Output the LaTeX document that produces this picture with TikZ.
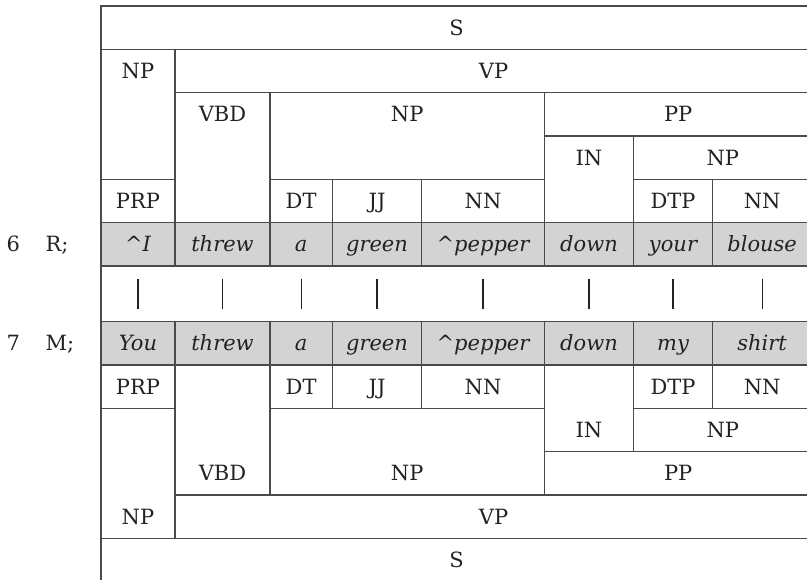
\documentclass[tikz,border=0pt]{standalone}
\usepackage{fontspec}
\setmainfont{DejaVu Serif}
\usetikzlibrary{calc}

\definecolor{rulegray}{HTML}{4A4A4A}
\definecolor{wordgray}{HTML}{D3D3D3}
\definecolor{inkgray}{HTML}{222222}

\begin{document}
\begin{tikzpicture}[x=1pt, y=-1pt, line width=1.3pt,
    cell/.style={draw=rulegray},
    wordcell/.style={draw=rulegray, fill=wordgray},
    tag/.style={text=inkgray, font=\fontsize{21}{25}\selectfont,
        text height=15.3pt, text depth=0pt, inner sep=0pt},
    word/.style={tag, font=\fontsize{21}{25}\selectfont\itshape},
    bar/.style={draw=inkgray, line width=1.1pt}]

    % Page: 807 x 580, y runs downwards
    \useasboundingbox (0,0) rectangle (807,580);

    % Columns: 101, 175, 270, 332.3, 421.7, 544.3, 633.7, 712.3, 812
    % Upper rows: 6, 49.3, 92.7, 136, 179.3, 222.7, 266
    % Lower rows: 321.7, 365, 408.3, 451.7, 495, 538.3, 581.7

    % Upper tree (R), labels in the top row of each box
    \foreach \nm/\xa/\ya/\xb/\yb/\ly/\txt in {
        rs/101/6/812/49.3/27.7/S,
        rnp/101/49.3/175/179.3/71/NP,
        rvp/175/49.3/812/92.7/71/VP,
        rvbd/175/92.7/270/222.7/114.3/VBD,
        rnpb/270/92.7/544.3/179.3/114.3/NP,
        rpp/544.3/92.7/812/136/114.3/PP,
        rin/544.3/136/633.7/222.7/157.7/IN,
        rnpc/633.7/136/812/179.3/157.7/NP,
        rprp/101/179.3/175/222.7/201/PRP,
        rdt/270/179.3/332.3/222.7/201/DT,
        rjj/332.3/179.3/421.7/222.7/201/JJ,
        rnn/421.7/179.3/544.3/222.7/201/NN,
        rdtp/633.7/179.3/712.3/222.7/201/DTP,
        rnnb/712.3/179.3/812/222.7/201/NN} {
        \draw[cell] (\xa,\ya) rectangle (\xb,\yb);
        \node[tag] (\nm) at ({(\xa+\xb)/2},\ly) {\txt};
    }

    % Lower tree (M), labels in the bottom row of each box
    \foreach \nm/\xa/\ya/\xb/\yb/\ly/\txt in {
        mprp/101/365/175/408.3/386.7/PRP,
        mdt/270/365/332.3/408.3/386.7/DT,
        mjj/332.3/365/421.7/408.3/386.7/JJ,
        mnn/421.7/365/544.3/408.3/386.7/NN,
        mdtp/633.7/365/712.3/408.3/386.7/DTP,
        mnnb/712.3/365/812/408.3/386.7/NN,
        min/544.3/365/633.7/451.7/430/IN,
        mnpc/633.7/408.3/812/451.7/430/NP,
        mvbd/175/365/270/495/473.3/VBD,
        mnpb/270/408.3/544.3/495/473.3/NP,
        mpp/544.3/451.7/812/495/473.3/PP,
        mnp/101/408.3/175/538.3/516.7/NP,
        mvp/175/495/812/538.3/516.7/VP,
        ms/101/538.3/812/581.7/560/S} {
        \draw[cell] (\xa,\ya) rectangle (\xb,\yb);
        \node[tag] (\nm) at ({(\xa+\xb)/2},\ly) {\txt};
    }

    % Word rows, grey
    \foreach \i/\xa/\xb/\rw/\mw in {
        1/101/175/{\^{}I}/You,
        2/175/270/threw/threw,
        3/270/332.3/a/a,
        4/332.3/421.7/green/green,
        5/421.7/544.3/{\^{}pepper}/{\^{}pepper},
        6/544.3/633.7/down/down,
        7/633.7/712.3/your/my,
        8/712.3/812/blouse/shirt} {
        \draw[wordcell] (\xa,222.7) rectangle (\xb,266);
        \node[word] (r\i) at ({(\xa+\xb)/2},244.3) {\rw};
        \draw[wordcell] (\xa,321.7) rectangle (\xb,365);
        \node[word] (m\i) at ({(\xa+\xb)/2},343.3) {\mw};
        % alignment bar
        \draw[bar, shorten <=26pt, shorten >=26pt] (r\i) -- (m\i);
    }

    % Left border runs down past the page
    \draw[cell] (101,6) -- (101,582);

    % Line numbers and speakers
    \node[tag, anchor=west] (n6) at (6,244.3) {6};
    \node[tag, anchor=west] (spr) at (45,244.3) {R;};
    \node[tag, anchor=west] (n7) at (6,343.3) {7};
    \node[tag, anchor=west] (spm) at (45,343.3) {M;};

\end{tikzpicture}
\end{document}
